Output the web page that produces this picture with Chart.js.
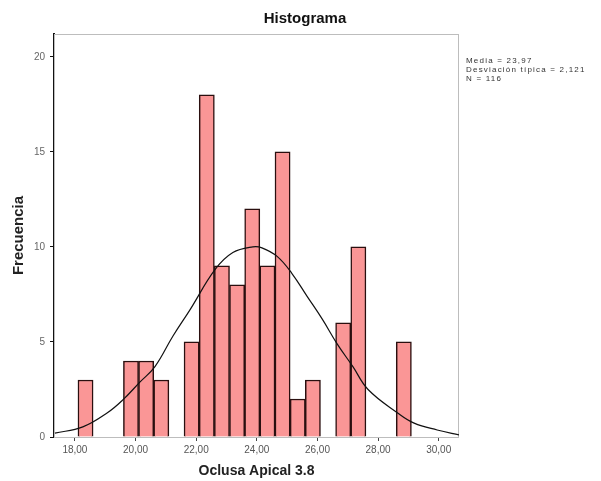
<!DOCTYPE html>
<html><head><meta charset="utf-8">
<script src="https://cdn.jsdelivr.net/npm/chart.js@4/dist/chart.umd.min.js"></script>
<style>html,body{margin:0;padding:0;background:#fff}#wrap{width:601px;height:481px}</style>
</head><body><div id="wrap"><canvas id="c" width="601" height="481"></canvas></div>
<script>
// Histogram bins (bin centers, width 0.5) and counts
const binCenters = [18.35,18.85,19.35,19.85,20.35,20.85,21.35,21.85,22.35,22.85,23.35,23.85,24.35,24.85,25.35,25.85,26.35,26.85,27.35,27.85,28.35,28.85];
const counts     = [3,0,0,4,4,3,0,5,18,9,8,12,9,15,2,3,0,6,10,0,0,5];
// Normal curve points
const curveX = [17.34,18.26,19.06,19.58,20.15,20.64,21.23,21.80,22.62,23.21,23.87,24.17,24.67,25.16,25.66,26.16,26.65,27.17,27.67,28.66,29.19,29.95,30.71];
const curveY = [0.2,0.53,1.26,1.95,2.9,3.7,5.3,6.7,8.8,9.7,10.0,9.95,9.5,8.6,7.4,6.2,4.9,3.7,2.5,1.25,0.73,0.37,0.1];
const xTicks = [18,20,22,24,26,28,30];
const yTicks = [0,5,10,15,20];
const titleText = 'Histograma';
const xTitle = 'Oclusa Apical 3.8';
const yTitle = 'Frecuencia';
const statsLines = ['Media = 23,97','Desviación típica = 2,121','N = 116'];

const FONT = '"Liberation Sans", Arial, sans-serif';
const overlay = {
  id:'overlay',
  beforeDatasetsDraw(chart){
    const a = chart.chartArea, ctx = chart.ctx;
    ctx.save();
    ctx.strokeStyle = '#bdbdbd'; ctx.lineWidth = 1;
    ctx.strokeRect(a.left+0.5, a.top+0.5, a.right-a.left-1, a.bottom-a.top);
    ctx.restore();
  },
  afterDraw(chart){
    const ctx = chart.ctx, a = chart.chartArea;
    ctx.save();
    ctx.fillStyle = '#111';
    ctx.font = 'bold 15px ' + FONT;
    ctx.textAlign = 'center'; ctx.textBaseline = 'middle';
    ctx.fillText(titleText, 305, 19);
    ctx.font = '8px ' + FONT;
    ctx.letterSpacing = '1.2px';
    ctx.textAlign = 'left';
    ctx.fillStyle = '#333';
    statsLines.forEach((t,i)=>ctx.fillText(t, a.right+7, 61+i*9));
    ctx.letterSpacing = '0px';
    ctx.restore();
  }
};

new Chart(document.getElementById('c'), {
  data: {
    datasets: [
      { type:'line', label:'Normal', data: curveX.map((x,i)=>({x, y:curveY[i]})),
        borderColor:'#111', borderWidth:1.2, pointRadius:0, tension:0.4, fill:false, order:0 },
      { type:'bar', label:'Frecuencia', data: binCenters.map((x,i)=>({x, y:counts[i]})),
        backgroundColor:'rgb(250,150,150)', borderColor:'#2a0f0f', borderWidth:1.5,
        barPercentage:1, categoryPercentage:1, order:1 }
    ]
  },
  options: {
    responsive:false, animation:false, devicePixelRatio:1,
    layout:{ padding:{ left:0, right:142, top:34, bottom:0 } },
    plugins:{ legend:{display:false}, tooltip:{enabled:false}, title:{display:false} },
    scales:{
      x:{ type:'linear', min:17.31, max:30.67, offset:false,
        afterBuildTicks: s => { s.ticks = xTicks.map(v=>({value:v})); },
        afterFit: s => { s.height = 44; },
        grid:{ drawOnChartArea:false, drawTicks:true, tickLength:4, tickColor:'#444', offset:false },
        border:{ display:false },
        ticks:{ padding:3, color:'#555', font:{size:10, family:FONT},
          callback: v => Number(v).toFixed(2).replace('.',','), maxRotation:0, autoSkip:false },
        title:{ display:true, text:xTitle, color:'#222', padding:{top:2,bottom:1},
          font:{size:14, weight:'bold', family:FONT} }
      },
      y:{ min:0, max:21.2,
        afterBuildTicks: s => { s.ticks = yTicks.map(v=>({value:v})); },
        afterFit: s => { s.width = 54; },
        grid:{ drawOnChartArea:false, drawTicks:true, tickLength:4, tickColor:'#111' },
        border:{ display:true, color:'#111', width:2 },
        ticks:{ padding:5, color:'#666', font:{size:10, family:FONT} },
        title:{ display:true, text:yTitle, color:'#222', padding:{top:10,bottom:0},
          font:{size:15, weight:'bold', family:FONT} }
      }
    }
  },
  plugins:[overlay]
});
</script></body></html>
